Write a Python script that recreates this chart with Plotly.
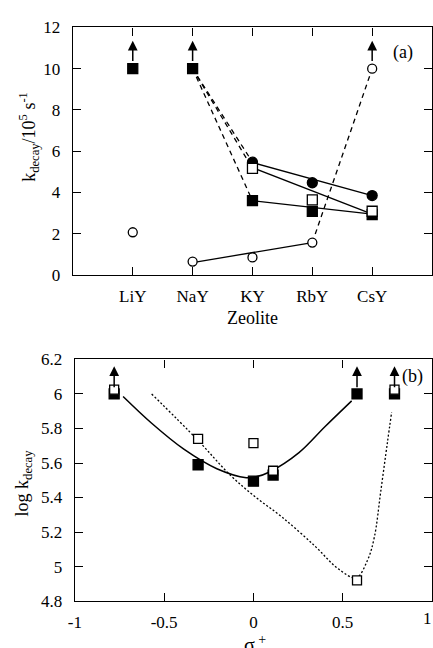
import plotly.graph_objects as go

# ---------------- data: panel (a) ----------------
zeolites = ["LiY", "NaY", "KY", "RbY", "CsY"]
zeo_pos = [1, 2, 3, 4, 5]
y_ticks_a = [0, 2, 4, 6, 8, 10, 12]

filled_sq_a = [10.0, 10.0, 3.6, 3.08, 2.93]
open_circ_a = [2.07, 0.65, 0.85, 1.57, 10.0]
filled_circ_a = [None, None, 5.47, 4.47, 3.85]
open_sq_a = [None, None, 5.17, 3.64, 3.09]

# straight trend lines (start/end values)
trend_filled_circ = [5.45, 3.85]      # KY -> CsY
trend_open_sq = [5.2, 2.95]           # KY -> CsY
trend_filled_sq = [3.6, 2.95]         # KY -> CsY
trend_open_circ = [0.6, 1.57]         # NaY -> RbY
dash_open_circ = [1.57, 10.0]         # RbY -> CsY
dash_from_nay = [10.0]                # NaY start of dashed links
lower_bound_a = [("LiY", 10.0), ("NaY", 10.0), ("CsY", 10.0)]
arrow_top_a = 11.35

# ---------------- data: panel (b) ----------------
sigma_plus = [-0.78, -0.31, 0.0, 0.11, 0.58, 0.79]
filled_sq_b = [6.0, 5.59, 5.495, 5.53, 6.0, 6.0]
open_sq_b = [6.025, 5.74, 5.715, 5.555, 4.92, 6.025]
bounded_b = [-0.78, 0.58, 0.79]
arrow_top_b = 6.16
x_ticks_b = [-1, -0.5, 0, 0.5, 1]
x_ticklabels_b = ["-1", "-0.5", "0", "0.5", ""]
y_ticks_b = [4.8, 5.0, 5.2, 5.4, 5.6, 5.8, 6.0, 6.2]
y_ticklabels_b = ["4.8", "5", "5.2", "5.4", "5.6", "5.8", "6", "6.2"]

solid_curve_x = [-0.73, -0.57, -0.39, -0.205, -0.04, 0.015, 0.09, 0.255, 0.40, 0.55]
solid_curve_y = [5.985, 5.83, 5.68, 5.567, 5.515, 5.52, 5.548, 5.66, 5.81, 5.96]
dotted_curve_x = [-0.57, -0.315, -0.13, 0.015, 0.16, 0.345, 0.475, 0.575, 0.64, 0.677, 0.713, 0.75, 0.774]
dotted_curve_y = [6.0, 5.736, 5.53, 5.40, 5.287, 5.118, 4.987, 4.935, 5.04, 5.17, 5.436, 5.717, 5.895]

FONT = "Liberation Serif"
W, H = 433, 648
BLACK = "black"
LW = 1.3

fig = go.Figure()


def px_x(p):
    return p / W


def px_y(p):
    return 1 - p / H


# ---- panel (a) lines ----
def seg(xs, ys, dash, xa="x", ya="y"):
    fig.add_trace(go.Scatter(x=xs, y=ys, mode="lines", xaxis=xa, yaxis=ya,
                             line=dict(color=BLACK, width=LW, dash=dash),
                             showlegend=False, hoverinfo="skip"))


ky, nay, rby, csy = 3, 2, 4, 5
for target in (filled_circ_a[2], open_sq_a[2], filled_sq_a[2]):
    seg([nay, ky], [dash_from_nay[0], target], "5px,4px")
seg([ky, csy], trend_filled_circ, "solid")
seg([ky, csy], trend_open_sq, "solid")
seg([ky, csy], trend_filled_sq, "solid")
seg([nay, rby], trend_open_circ, "solid")
seg([rby, csy], dash_open_circ, "5px,4px")


# ---- markers ----
def markers(xs, ys, symbol, filled, size, xa="x", ya="y"):
    fig.add_trace(go.Scatter(
        x=xs, y=ys, mode="markers", xaxis=xa, yaxis=ya,
        marker=dict(symbol=symbol, size=size,
                    color=BLACK if filled else "white",
                    line=dict(color=BLACK, width=1.3)),
        showlegend=False, hoverinfo="skip"))


markers(zeo_pos, filled_sq_a, "square", True, 10)
markers(zeo_pos, filled_circ_a, "circle", True, 10)
markers(zeo_pos, open_circ_a, "circle", False, 9)
markers(zeo_pos, open_sq_a, "square", False, 10)

# ---- panel (b) curves and markers ----
fig.add_trace(go.Scatter(x=solid_curve_x, y=solid_curve_y, mode="lines",
                         xaxis="x2", yaxis="y2",
                         line=dict(color=BLACK, width=1.5, shape="spline"),
                         showlegend=False, hoverinfo="skip"))
fig.add_trace(go.Scatter(x=dotted_curve_x, y=dotted_curve_y, mode="lines",
                         xaxis="x2", yaxis="y2",
                         line=dict(color=BLACK, width=1.3, shape="spline", dash="2px,2px"),
                         showlegend=False, hoverinfo="skip"))
markers(sigma_plus, filled_sq_b, "square", True, 10, "x2", "y2")
markers(sigma_plus, open_sq_b, "square", False, 9, "x2", "y2")

# ---- lower-bound arrows ----
annotations = []
for name, val in lower_bound_a:
    xp = zeo_pos[zeolites.index(name)]
    annotations.append(dict(x=xp, y=arrow_top_a, ax=xp, ay=val + 0.3,
                            xref="x", yref="y", axref="x", ayref="y",
                            text="", showarrow=True, arrowhead=2,
                            arrowsize=1.3, arrowwidth=1.5, arrowcolor=BLACK))
for xs in bounded_b:
    yv = filled_sq_b[sigma_plus.index(xs)]
    annotations.append(dict(x=xs, y=arrow_top_b, ax=xs, ay=yv + 0.03,
                            xref="x2", yref="y2", axref="x2", ayref="y2",
                            text="", showarrow=True, arrowhead=2,
                            arrowsize=1.3, arrowwidth=1.5, arrowcolor=BLACK))


# ---- texts ----
def label(text, x, y, size, angle=0, xanchor="center"):
    annotations.append(dict(text=text, x=px_x(x), y=px_y(y), xref="paper", yref="paper",
                            showarrow=False, textangle=angle,
                            font=dict(family=FONT, size=size, color=BLACK),
                            xanchor=xanchor, yanchor="middle"))


label("(a)", 402, 45, 18)
label("(b)", 412, 379, 18)
label("k<sub>decay</sub>/10<sup>5</sup> s<sup>-1</sup>", 22, 132, 18, -90)
label("Zeolite", 250, 318, 18)
label("log k<sub>decay</sub>", 17, 488, 18, -90)
label("σ<sup> +</sup>", 252, 654, 20)
label("1", 434, 628, 17, xanchor="right")

axis_common = dict(showline=True, linecolor=BLACK, linewidth=1.3, mirror="ticks",
                   ticks="inside", ticklen=8, tickwidth=1.3, tickcolor=BLACK,
                   showgrid=False, zeroline=False,
                   tickfont=dict(family=FONT, size=17, color=BLACK))

fig.update_layout(
    width=W, height=H,
    margin=dict(l=0, r=0, t=0, b=0),
    paper_bgcolor="white", plot_bgcolor="white",
    showlegend=False,
    font=dict(family=FONT, color=BLACK),
    xaxis=dict(domain=[px_x(67), px_x(432)], range=[0, 6], anchor="y",
               tickvals=zeo_pos, ticktext=zeolites, ticklabelstandoff=5, **axis_common),
    yaxis=dict(domain=[px_y(274), px_y(19)], range=[0, 12], anchor="x",
               tickvals=y_ticks_a, ticktext=[str(v) for v in y_ticks_a],
               ticklabelstandoff=8, **axis_common),
    xaxis2=dict(domain=[px_x(69), px_x(432)], range=[-1, 1], anchor="y2",
                tickvals=x_ticks_b, ticktext=x_ticklabels_b, ticklabelstandoff=5, **axis_common),
    yaxis2=dict(domain=[px_y(610), px_y(361)], range=[4.8, 6.2], anchor="x2",
                tickvals=y_ticks_b, ticktext=y_ticklabels_b, ticklabelstandoff=8, **axis_common),
    annotations=annotations,
)

fig.write_html("out.html")
